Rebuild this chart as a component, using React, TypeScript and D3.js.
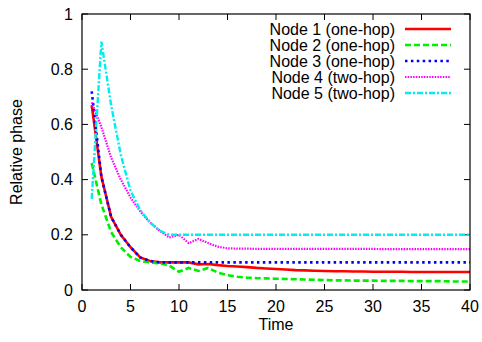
import * as d3 from "d3";
import { useEffect, useRef } from "react";

const times = d3.range(1, 41);

const node1 = [0.67, 0.41, 0.265, 0.2, 0.155, 0.118, 0.105, 0.1, 0.1, 0.1,
  0.1, 0.093, 0.094, 0.09, 0.087, 0.085, 0.083, 0.08, 0.078, 0.076,
  0.074, 0.072, 0.071, 0.07, 0.069, 0.068, 0.068, 0.067, 0.067, 0.066,
  0.066, 0.066, 0.066, 0.065, 0.065, 0.065, 0.065, 0.065, 0.065, 0.065];
const node2 = [0.46, 0.31, 0.21, 0.155, 0.12, 0.105, 0.1, 0.097, 0.088, 0.066,
  0.08, 0.069, 0.08, 0.063, 0.054, 0.048, 0.045, 0.043, 0.042, 0.041,
  0.04, 0.039, 0.038, 0.037, 0.036, 0.035, 0.035, 0.034, 0.034, 0.034,
  0.033, 0.033, 0.033, 0.032, 0.032, 0.032, 0.032, 0.031, 0.031, 0.031];
const node3 = [0.72, 0.41, 0.265, 0.2, 0.155, 0.118, 0.105, 0.1, 0.1, 0.1,
  0.1, 0.1, 0.1, 0.1, 0.1, 0.1, 0.1, 0.1, 0.1, 0.1,
  0.1, 0.1, 0.1, 0.1, 0.1, 0.1, 0.1, 0.1, 0.1, 0.1,
  0.1, 0.1, 0.1, 0.1, 0.1, 0.1, 0.1, 0.1, 0.1, 0.1];
const node4 = [0.68, 0.59, 0.48, 0.4, 0.335, 0.285, 0.245, 0.215, 0.19, 0.2,
  0.17, 0.185, 0.17, 0.157, 0.151, 0.15, 0.15, 0.149, 0.149, 0.149,
  0.149, 0.149, 0.149, 0.149, 0.149, 0.149, 0.149, 0.149, 0.149, 0.149,
  0.148, 0.148, 0.148, 0.148, 0.148, 0.148, 0.148, 0.148, 0.148, 0.148];
const node5 = [0.33, 0.9, 0.67, 0.49, 0.36, 0.29, 0.245, 0.215, 0.2, 0.2,
  0.2, 0.2, 0.2, 0.2, 0.2, 0.2, 0.2, 0.2, 0.2, 0.2,
  0.2, 0.2, 0.2, 0.2, 0.2, 0.2, 0.2, 0.2, 0.2, 0.2,
  0.2, 0.2, 0.2, 0.2, 0.2, 0.2, 0.2, 0.2, 0.2, 0.2];

const seriesNames = ["Node 1 (one-hop)", "Node 2 (one-hop)", "Node 3 (one-hop)", "Node 4 (two-hop)", "Node 5 (two-hop)"];
const xTicks = [0, 5, 10, 15, 20, 25, 30, 35, 40];
const yTicks = [0, 0.2, 0.4, 0.6, 0.8, 1];

const styles = [
  { color: "#ff0000", width: 2.6, dash: null },
  { color: "#00ee00", width: 2.6, dash: "6,3" },
  { color: "#0000ff", width: 2.6, dash: "2.5,3.4" },
  { color: "#ff00ff", width: 2.2, dash: "1.5,1.2" },
  { color: "#00eeee", width: 2.4, dash: "6,2,2,2" },
];

const App = () => {
  const ref = useRef(null);

  useEffect(() => {
    const svg = d3.select(ref.current);
    const left = 82, right = 470, top = 14, bottom = 290;
    const font = "'Liberation Sans', Arial, sans-serif";

    const x = d3.scaleLinear().domain([0, 40]).range([left, right]);
    const y = d3.scaleLinear().domain([0, 1]).range([bottom, top]);

    const all = [node1, node2, node3, node4, node5];
    const line = d3
      .line<number>()
      .x((d, i) => x(times[i]))
      .y((d) => y(d));

    // ticks on all four sides, pointing inward
    const g = svg.append("g").attr("stroke", "#000").attr("stroke-width", 1);
    xTicks.forEach((t) => {
      g.append("line").attr("x1", x(t)).attr("x2", x(t)).attr("y1", bottom).attr("y2", bottom - 6);
      g.append("line").attr("x1", x(t)).attr("x2", x(t)).attr("y1", top).attr("y2", top + 6);
    });
    yTicks.forEach((t) => {
      g.append("line").attr("x1", left).attr("x2", left + 6).attr("y1", y(t)).attr("y2", y(t));
      g.append("line").attr("x1", right).attr("x2", right - 6).attr("y1", y(t)).attr("y2", y(t));
    });

    all.forEach((vals, i) => {
      const s = styles[i];
      svg
        .append("path")
        .attr("d", line(vals))
        .attr("fill", "none")
        .attr("stroke", s.color)
        .attr("stroke-width", s.width)
        .attr("stroke-dasharray", s.dash);
    });

    svg
      .append("rect")
      .attr("x", left)
      .attr("y", top)
      .attr("width", right - left)
      .attr("height", bottom - top)
      .attr("fill", "none")
      .attr("stroke", "#000")
      .attr("stroke-width", 1.2);

    const txt = svg.append("g").attr("font-family", font).attr("font-size", 16).attr("fill", "#000");
    xTicks.forEach((t) => {
      txt.append("text").attr("x", x(t)).attr("y", 312).attr("text-anchor", "middle").text(d3.format("")(t));
    });
    yTicks.forEach((t) => {
      txt.append("text").attr("x", 73).attr("y", y(t)).attr("dy", "0.35em").attr("text-anchor", "end").text(d3.format("")(t));
    });
    txt.append("text").attr("x", x(20)).attr("y", 330).attr("text-anchor", "middle").text("Time");
    txt
      .append("text")
      .attr("transform", `translate(22, ${(top + bottom) / 2}) rotate(-90)`)
      .attr("text-anchor", "middle")
      .text("Relative phase");

    // legend
    seriesNames.forEach((name, i) => {
      const ly = 29 + i * 16;
      const s = styles[i];
      txt.append("text").attr("x", 395).attr("y", ly).attr("dy", "0.35em").attr("text-anchor", "end").text(name);
      svg
        .append("line")
        .attr("x1", 405)
        .attr("x2", 451)
        .attr("y1", ly)
        .attr("y2", ly)
        .attr("stroke", s.color)
        .attr("stroke-width", s.width)
        .attr("stroke-dasharray", s.dash);
    });

    return () => svg.selectAll("*").remove();
  }, []);

  return <svg ref={ref} width={482} height={342} style={{ position: "absolute", left: 0, top: 0, background: "#fff" }} />;
};

export default App;
